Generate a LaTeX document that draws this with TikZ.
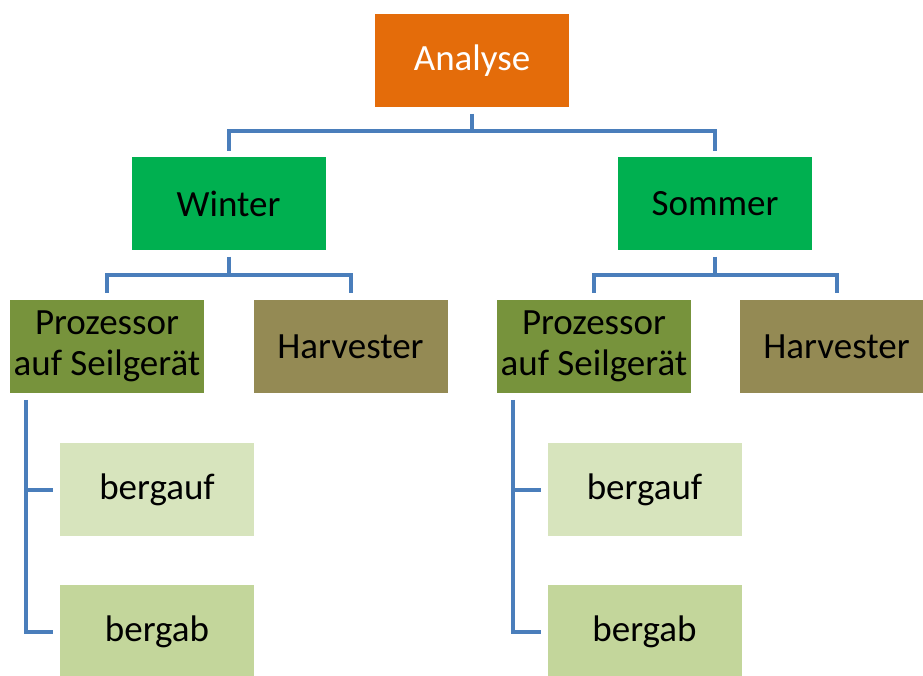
\documentclass[tikz,border=0pt]{standalone}
\usepackage{fontspec}
\setmainfont{Carlito}
\usetikzlibrary{calc}
\definecolor{cOrange}{HTML}{E46C0A}
\definecolor{cGreen}{HTML}{00B050}
\definecolor{cOlive}{HTML}{77933C}
\definecolor{cKhaki}{HTML}{948A54}
\definecolor{cLight}{HTML}{D7E4BD}
\definecolor{cMid}{HTML}{C3D69B}
\definecolor{cLine}{HTML}{4A7EBB}
\tikzset{
  box/.style={rectangle, draw=white, line width=0.6pt, minimum width=195pt, minimum height=94pt,
    inner sep=0pt, align=center, font=\fontsize{37}{41}\selectfont, text=black},
  conn/.style={draw=cLine, line width=4pt, line join=miter},
}
\begin{document}
\begin{tikzpicture}[x=1pt,y=-1pt]
\useasboundingbox (0,0) rectangle (923,675);
\node[box, fill=cOrange, text=white] (A) at (472,60.5) {Analyse};
\node[box, fill=cGreen] (W) at (228.5,203.5) {Winter};
\node[box, fill=cGreen] (S) at (715,203.5) {Sommer};
\node[box, fill=cOlive] (PL) at (107,346.5) {Prozessor\\auf Seilgerät};
\node[box, fill=cKhaki] (HL) at (350.5,346.5) {Harvester};
\node[box, fill=cOlive] (PR) at (594,346.5) {Prozessor\\auf Seilgerät};
\node[box, fill=cKhaki] (HR) at (836.5,346.5) {Harvester};
\node[box, fill=cLight] (UL) at (157,489.5) {bergauf};
\node[box, fill=cMid] (DL) at (157,631.5) {bergab};
\node[box, fill=cLight] (UR) at (644.5,489.5) {bergauf};
\node[box, fill=cMid] (DR) at (644.5,631.5) {bergab};
% top level
\draw[conn] ([yshift=-6pt]A.south) |- ([yshift=25pt]W.north) -- ([yshift=5pt]W.north);
\draw[conn] ([yshift=-6pt]A.south) |- ([yshift=25pt]S.north) -- ([yshift=5pt]S.north);
% Winter
\draw[conn] ([yshift=-6pt]W.south) |- ([yshift=24pt]PL.north) -- ([yshift=6pt]PL.north);
\draw[conn] ([yshift=-6pt]W.south) |- ([yshift=24pt]HL.north) -- ([yshift=6pt]HL.north);
% Sommer
\draw[conn] ([yshift=-6pt]S.south) |- ([yshift=24pt]PR.north) -- ([yshift=6pt]PR.north);
\draw[conn] ([yshift=-6pt]S.south) |- ([yshift=24pt]HR.north) -- ([yshift=6pt]HR.north);
% Prozessor left
\draw[conn] ([xshift=17pt,yshift=-6pt]PL.south west) |- ([xshift=-6pt]DL.west);
\draw[conn] ([xshift=17pt]PL.south west |- UL.west) -- ([xshift=-6pt]UL.west);
% Prozessor right
\draw[conn] ([xshift=17pt,yshift=-6pt]PR.south west) |- ([xshift=-6pt]DR.west);
\draw[conn] ([xshift=17pt]PR.south west |- UR.west) -- ([xshift=-6pt]UR.west);
\end{tikzpicture}
\end{document}
